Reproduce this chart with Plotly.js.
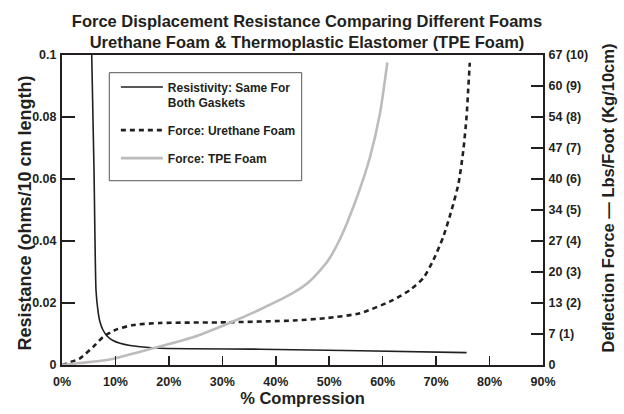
<!DOCTYPE html>
<html>
<head>
<meta charset="utf-8">
<script src="https://cdn.plot.ly/plotly-3.0.1.min.js"></script>
<style>html,body{margin:0;padding:0;background:#fff;}#chart{width:624px;height:414px;}</style>
</head>
<body>
<div id="chart"></div>
<script>
// % compression and resistance (ohms/10 cm length) - same for both gaskets
const compressionRes = [5.56, 5.99, 6.36, 6.74, 7.11, 7.67, 8.42, 9.54, 10.85, 12.72, 14.6, 18.34, 37.05, 55.8, 75.7];
const resistance     = [0.1, 0.0629, 0.0242, 0.0174, 0.01387, 0.01129, 0.00935, 0.0079, 0.0070, 0.00629, 0.0059, 0.0054, 0.0051, 0.0046, 0.0040];

// Urethane foam deflection force (Kg/10cm)
const compressionUre = [0, 3.37, 5.86, 7.73, 10.24, 13.34, 18.34, 30.82, 43.28, 49.6, 55.76, 62.0, 65.1, 67.6, 69.5, 71.35, 72.9, 74.2, 75.1, 75.7, 76.0, 76.3];
const forceUre       = [0, 0.216, 0.59, 0.91, 1.15, 1.29, 1.355, 1.377, 1.435, 1.516, 1.668, 2.10, 2.42, 2.80, 3.39, 4.14, 5.0, 5.86, 6.94, 8.01, 8.87, 9.75];

// TPE foam deflection force (Kg/10cm)
const compressionTpe = [0, 3.37, 8.98, 17.03, 24.51, 30.88, 37.05, 43.23, 46.41, 49.59, 52.02, 55.2, 57.63, 59.51, 60.87];
const forceTpe       = [0, 0.065, 0.177, 0.539, 0.894, 1.323, 1.79, 2.323, 2.71, 3.323, 4.065, 5.419, 6.71, 8.13, 9.758];

// axis ticks
const xTickVals = [0, 10, 20, 30, 40, 50, 60, 70, 80, 90];
const xTickText = ['0%', '10%', '20%', '30%', '40%', '50%', '60%', '70%', '80%', '90%'];
const yTickVals = [0, 0.02, 0.04, 0.06, 0.08, 0.1];
const yTickText = ['0', '0.02', '0.04', '0.06', '0.08', '0.1'];
const y2TickVals = [0, 1, 2, 3, 4, 5, 6, 7, 8, 9, 10];
const y2TickText = ['0', '7 (1)', '13 (2)', '20 (3)', '27 (4)', '34 (5)', '40 (6)', '47 (7)', '54 (8)', '60 (9)', '67 (10)'];

const seriesNames = ['Resistivity: Same For<br>Both Gaskets', 'Force: Urethane Foam', 'Force: TPE Foam'];
const leftTitle = 'Resistance (ohms/10 cm length)';
const rightTitle = 'Deflection Force \u2014 Lbs/Foot (Kg/10cm)';

const font = '"Liberation Sans", Arial, Helvetica, sans-serif';
const ink = '#231f20';

const traces = [
  {x: compressionRes, y: resistance, name: seriesNames[0], yaxis: 'y', mode: 'lines', legendgroup: 'a',
   line: {color: ink, width: 1.6, shape: 'spline', smoothing: 0.5}},
  {x: compressionUre, y: forceUre, name: seriesNames[1], yaxis: 'y2', mode: 'lines', legendgroup: 'b',
   line: {color: ink, width: 2.6, dash: '5px,4px', shape: 'spline', smoothing: 0.6}},
  {x: compressionTpe, y: forceTpe, name: seriesNames[2], yaxis: 'y2', mode: 'lines', legendgroup: 'c',
   line: {color: '#bcbcbc', width: 2.6, shape: 'spline', smoothing: 0.6}}
];

const layout = {
  width: 624, height: 414,
  margin: {l: 62, r: 81, t: 55, b: 49},
  paper_bgcolor: '#ffffff', plot_bgcolor: '#ffffff',
  showlegend: true,
  title: {
    text: 'Force Displacement Resistance Comparing Different Foams<br>Urethane Foam & Thermoplastic Elastomer (TPE Foam)',
    font: {family: font, size: 16.5, weight: 'bold', color: ink},
    x: 0.492, xref: 'container', xanchor: 'center',
    y: 1 - 27 / 414, yref: 'container', yanchor: 'middle'
  },
  xaxis: {
    range: [0, 90], tickvals: xTickVals, ticktext: xTickText,
    ticks: 'inside', ticklen: 9, tickwidth: 1.5, tickcolor: ink,
    showline: true, linewidth: 2, linecolor: ink, mirror: true,
    showgrid: false, zeroline: false, fixedrange: true,
    ticklabelstandoff: 4,
    tickfont: {family: font, size: 12.5, weight: 'bold', color: ink},
    title: {text: '% Compression', font: {family: font, size: 16.5, weight: 'bold', color: ink}, standoff: 0}
  },
  yaxis: {
    range: [0, 0.1], tickvals: yTickVals, ticktext: yTickText,
    ticks: 'inside', ticklen: 13, tickwidth: 1.5, tickcolor: ink,
    showline: true, linewidth: 2, linecolor: ink,
    showgrid: false, zeroline: false, fixedrange: true,
    ticklabelstandoff: 1,
    tickfont: {family: font, size: 12.5, weight: 'bold', color: ink}
  },
  yaxis2: {
    overlaying: 'y', side: 'right',
    range: [0, 10], tickvals: y2TickVals, ticktext: y2TickText,
    ticks: 'inside', ticklen: 12, tickwidth: 1.5, tickcolor: ink,
    showline: true, linewidth: 2, linecolor: ink,
    showgrid: false, zeroline: false, fixedrange: true,
    ticklabelstandoff: 1,
    tickfont: {family: font, size: 12.5, weight: 'bold', color: ink}
  },
  legend: {
    x: 0.112, y: 0.943, xanchor: 'left', yanchor: 'top',
    bgcolor: 'rgba(0,0,0,0)', borderwidth: 0,
    font: {family: font, size: 12, weight: 'bold', color: ink},
    valign: 'top', itemwidth: 42, traceorder: 'grouped', tracegroupgap: 9
  },
  shapes: [{
    type: 'rect', xref: 'paper', yref: 'paper', layer: 'below',
    x0: 0.0983, x1: 0.4983, y0: 0.5945, y1: 0.9429,
    line: {color: '#555555', width: 1}, fillcolor: '#ffffff'
  }],
  annotations: [
    {text: leftTitle, xref: 'paper', yref: 'paper', x: (25 - 62) / 481, y: (365 - 213.5) / 310,
     xanchor: 'center', yanchor: 'middle', textangle: -90, showarrow: false,
     font: {family: font, size: 18, weight: 'bold', color: ink}},
    {text: rightTitle, xref: 'paper', yref: 'paper', x: (607 - 62) / 481, y: (365 - 198.5) / 310,
     xanchor: 'center', yanchor: 'middle', textangle: -90, showarrow: false,
     font: {family: font, size: 16.5, weight: 'bold', color: ink}}
  ]
};

Plotly.newPlot('chart', traces, layout, {displayModeBar: false, staticPlot: true});
</script>
</body>
</html>
